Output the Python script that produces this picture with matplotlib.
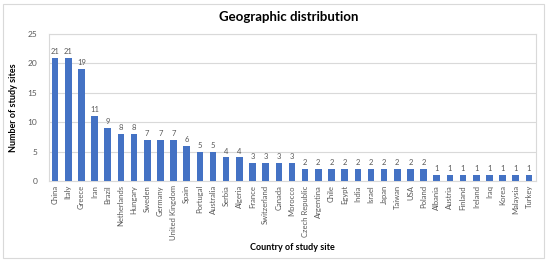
import matplotlib.pyplot as plt
from matplotlib.patches import Rectangle

plt.rcParams['font.family'] = ['Lato', 'DejaVu Sans']

countries = ["China", "Italy", "Greece", "Iran", "Brazil", "Netherlands", "Hungary",
             "Sweden", "Germany", "United Kingdom", "Spain", "Portugal", "Australia",
             "Serbia", "Algeria", "France", "Switzerland", "Canada", "Morocco",
             "Czech Republic", "Argentina", "Chile", "Egypt", "India", "Israel", "Japan",
             "Taiwan", "USA", "Poland", "Albania", "Austria", "Finland", "Ireland",
             "Iraq", "Korea", "Malaysia", "Turkey"]
sites = [21, 21, 19, 11, 9, 8, 8, 7, 7, 7, 6, 5, 5, 4, 4, 3, 3, 3, 3,
         2, 2, 2, 2, 2, 2, 2, 2, 2, 2, 1, 1, 1, 1, 1, 1, 1, 1]
y_ticks = [0, 5, 10, 15, 20, 25]

BAR_COLOR = "#4472C4"
GRID_COLOR = "#D9D9D9"
TEXT_GRAY = "#595959"

fig = plt.figure(figsize=(5.5, 2.63), dpi=100)
ax = fig.add_axes([48.5 / 550, 1 - 181 / 263, (535.5 - 48.5) / 550, (181 - 34) / 263])

# outer chart frame
fig.patches.append(Rectangle((3 / 550, 5 / 263), 541 / 550, 254 / 263,
                             transform=fig.transFigure, fill=False,
                             edgecolor="#D9D9D9", linewidth=0.8))

x = range(len(countries))
bars = ax.bar(x, sites, width=0.5, color=BAR_COLOR, zorder=3)
for xi, v in zip(x, sites):
    ax.text(xi, v + 0.5, str(v), ha="center", va="bottom", fontsize=5.5, color=TEXT_GRAY)

ax.set_xlim(-0.5, len(countries) - 0.5)
ax.set_ylim(0, 25)
ax.set_yticks(y_ticks)
ax.set_xticks(list(x))
ax.set_xticklabels(countries, rotation=90, fontsize=5.5, color=TEXT_GRAY)
ax.tick_params(axis="y", labelsize=6, colors=TEXT_GRAY, length=0, pad=8)
ax.tick_params(axis="x", length=0, pad=3)
ax.grid(axis="y", color=GRID_COLOR, linewidth=0.8, zorder=0)
for s in ax.spines.values():
    s.set_color(GRID_COLOR)
    s.set_linewidth(0.8)

ax.set_ylabel("Number of study sites", fontsize=6.5, fontweight="bold", labelpad=7)
ax.set_xlabel("Country of study site", fontsize=6.5, fontweight="bold", labelpad=2)
fig.text(0.525, 1 - 17 / 263, "Geographic distribution", ha="center", va="center",
         fontsize=9.5, fontweight="bold")

fig.savefig("out.png", dpi=100)
